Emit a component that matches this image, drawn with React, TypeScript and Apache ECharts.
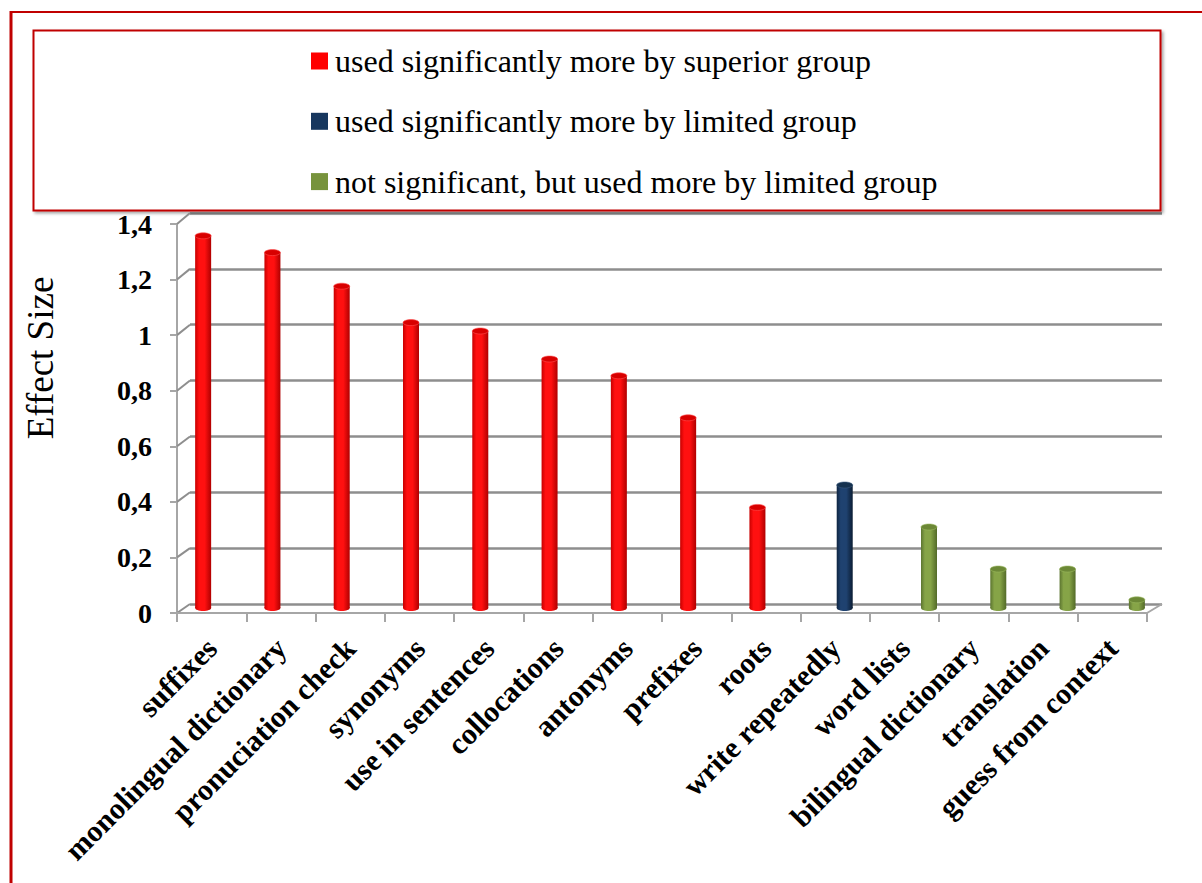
import React, { useEffect, useRef } from "react";
import * as echarts from "echarts";

const categories = [
  "suffixes",
  "monolingual dictionary",
  "pronuciation check",
  "synonyms",
  "use in sentences",
  "collocations",
  "antonyms",
  "prefixes",
  "roots",
  "write repeatedly",
  "word lists",
  "bilingual dictionary",
  "translation",
  "guess from context",
];
const superiorValues = [1.34, 1.28, 1.16, 1.03, 1.0, 0.9, 0.84, 0.69, 0.37, null, null, null, null, null];
const limitedValues = [null, null, null, null, null, null, null, null, null, 0.45, null, null, null, null];
const notSigValues = [null, null, null, null, null, null, null, null, null, null, 0.3, 0.15, 0.15, 0.04];
const seriesNames = [
  "used significantly more by superior group",
  "used significantly more by limited group",
  "not significant, but used more by limited group",
];
const yTicks = [0, 0.2, 0.4, 0.6, 0.8, 1, 1.2, 1.4];
const yMin = 0;
const yMax = 1.4;
const yStep = 0.2;

const FONT = "Liberation Serif";
const FRONT = { left: 177, top: 224, width: 970, height: 389 };
const BACK = { left: 190, top: 213, width: 972, height: 391 };
const BARS = { left: 185, top: 219, width: 970, height: 392 };
const GRID_COLOR = "#8e8e8e";

const palettes = [
  { legend: "#FF0000", edgeL: "#C80000", mid: "#FF1010", edgeR: "#B00000", top: "#D80000", topStroke: "#FF5050", offset: -16.5 },
  { legend: "#17375E", edgeL: "#0E2440", mid: "#1F4270", edgeR: "#0B1D33", top: "#16324F", topStroke: "#3A5A80", offset: 1.5 },
  { legend: "#77933C", edgeL: "#5C7530", mid: "#86A447", edgeR: "#536A29", top: "#6C8836", topStroke: "#9AB860", offset: 16.5 },
];

function toData(vals: (number | null)[]) {
  const out: number[][] = [];
  vals.forEach((v, i) => {
    if (v !== null && v !== undefined) out.push([i, v]);
  });
  return out;
}

function makeSeries(idx: number, vals: (number | null)[]) {
  const p = palettes[idx];
  return {
    type: "custom",
    name: seriesNames[idx],
    xAxisIndex: 2,
    yAxisIndex: 2,
    clip: false,
    z: 5,
    itemStyle: { color: p.legend },
    encode: { x: 0, y: 1 },
    data: toData(vals),
    renderItem: (params: any, api: any) => {
      const c = api.value(0);
      const v = api.value(1);
      const top = api.coord([c, v]);
      const base = api.coord([c, 0]);
      const w = 16;
      const rx = 8;
      const ry = 3;
      const cx = top[0] + p.offset;
      const bottomY = base[1] - 3;
      const grad = new echarts.graphic.LinearGradient(0, 0, 1, 0, [
        { offset: 0, color: p.edgeL },
        { offset: 0.25, color: p.mid },
        { offset: 0.6, color: p.mid },
        { offset: 1, color: p.edgeR },
      ]);
      return {
        type: "group",
        children: [
          { type: "ellipse", shape: { cx, cy: bottomY, rx, ry }, style: { fill: grad } },
          { type: "rect", shape: { x: cx - w / 2, y: top[1], width: w, height: Math.max(0, bottomY - top[1]) }, style: { fill: grad } },
          { type: "ellipse", shape: { cx, cy: top[1], rx, ry }, style: { fill: p.top, stroke: p.topStroke, lineWidth: 0.6 } },
        ],
      };
    },
  };
}

export default function App() {
  const ref = useRef<HTMLDivElement>(null);
  useEffect(() => {
    if (!ref.current) return;
    const chart = echarts.init(ref.current, null, { renderer: "svg" });
    const fmt = (v: number) => String(Math.round(v * 10) / 10).replace(".", ",");
    const option: any = {
      animation: false,
      backgroundColor: "#ffffff",
      textStyle: { fontFamily: FONT },
      legend: {
        orient: "vertical",
        left: 306,
        top: 38.5,
        itemWidth: 17,
        itemHeight: 17,
        itemGap: 25.3,
        icon: "rect",
        z: 10,
        data: seriesNames,
        textStyle: { fontFamily: FONT, fontSize: 32, lineHeight: 35, color: "#000", padding: [0, 0, 0, 2] },
      },
      grid: [
        { ...FRONT, containLabel: false },
        { ...BACK, containLabel: false },
        { ...BARS, containLabel: false },
      ],
      xAxis: [
        {
          gridIndex: 0,
          type: "category",
          data: categories,
          boundaryGap: true,
          axisLine: { show: true, lineStyle: { color: "#a6a6a6", width: 2 } },
          axisTick: { show: true, length: 9, lineStyle: { color: "#a6a6a6", width: 2 } },
          axisLabel: {
            interval: 0,
            rotate: 45,
            margin: 30,
            fontFamily: FONT,
            fontWeight: "bold",
            fontSize: 30,
            color: "#000",
          },
          splitLine: { show: false },
          z: 6,
        },
        { gridIndex: 1, type: "category", data: categories, show: false },
        { gridIndex: 2, type: "category", data: categories, show: false },
      ],
      yAxis: [
        {
          gridIndex: 0,
          type: "value",
          min: yMin,
          max: yMax,
          interval: yStep,
          axisLine: { show: true, lineStyle: { color: "#a6a6a6", width: 2 } },
          axisTick: { show: true, length: 7, lineStyle: { color: "#a6a6a6", width: 2 } },
          axisLabel: {
            margin: 25,
            fontFamily: FONT,
            fontWeight: "bold",
            fontSize: 28,
            color: "#000",
            formatter: fmt,
          },
          splitLine: { show: false },
        },
        {
          gridIndex: 1,
          type: "value",
          min: yMin,
          max: yMax,
          interval: yStep,
          axisLine: { show: false },
          axisTick: { show: false },
          axisLabel: { show: false },
          splitLine: { show: true, lineStyle: { color: GRID_COLOR, width: 2.5 } },
        },
        { gridIndex: 2, type: "value", min: yMin, max: yMax, interval: yStep, show: false, splitLine: { show: false } },
      ],
      series: [makeSeries(0, superiorValues), makeSeries(1, limitedValues), makeSeries(2, notSigValues)],
    };
    chart.setOption(option);

    const frontLeft = FRONT.left;
    const backLeft = BACK.left;
    const frontRight = FRONT.left + FRONT.width;
    const backRight = BACK.left + BACK.width;
    const graphics: any[] = [
      { type: "line", id: "outerLeft", z: 1, shape: { x1: 11, y1: 11, x2: 11, y2: 900 }, style: { stroke: "#C00000", lineWidth: 3 } },
      { type: "line", id: "outerTop", z: 1, shape: { x1: 10, y1: 12, x2: 1210, y2: 12 }, style: { stroke: "#C00000", lineWidth: 2 } },
      {
        type: "rect",
        id: "legendBox",
        z: 1,
        shape: { x: 33.5, y: 30.5, width: 1127, height: 180 },
        style: {
          fill: "#fff",
          stroke: "#C00000",
          lineWidth: 2,
          shadowBlur: 3,
          shadowOffsetX: 2,
          shadowOffsetY: 2,
          shadowColor: "rgba(0,0,0,0.35)",
        },
      },
      {
        type: "text",
        id: "yTitle",
        z: 3,
        x: 40,
        y: 358,
        rotation: Math.PI / 2,
        style: {
          text: "Effect Size",
          font: `37px "${FONT}"`,
          fill: "#000",
          align: "center",
          verticalAlign: "middle",
        },
      },
    ];
    yTicks.forEach((v, i) => {
      const fy = chart.convertToPixel({ yAxisIndex: 0 }, v) as number;
      const by = chart.convertToPixel({ yAxisIndex: 1 }, v) as number;
      graphics.push({
        type: "line",
        id: "side" + i,
        z: 2,
        shape: { x1: frontLeft, y1: fy, x2: backLeft, y2: by },
        style: { stroke: GRID_COLOR, lineWidth: 2 },
      });
    });
    const fy0 = chart.convertToPixel({ yAxisIndex: 0 }, 0) as number;
    const by0 = chart.convertToPixel({ yAxisIndex: 1 }, 0) as number;
    graphics.push({
      type: "line",
      id: "floorRight",
      z: 2,
      shape: { x1: frontRight, y1: fy0, x2: backRight, y2: by0 },
      style: { stroke: "#a6a6a6", lineWidth: 2 },
    });
    chart.setOption({ graphic: graphics });

    return () => chart.dispose();
  }, []);
  return (
    <div
      ref={ref}
      style={{ position: "fixed", left: 0, top: 0, width: 1202, height: 883, background: "#fff" }}
    />
  );
}
